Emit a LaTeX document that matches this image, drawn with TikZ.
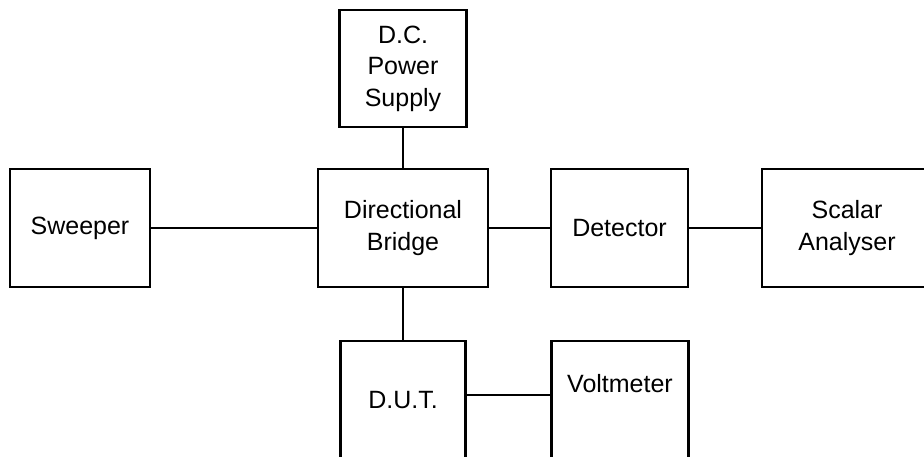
\documentclass[tikz,border=0pt]{standalone}
\usepackage{fontspec}
\setmainfont{Liberation Sans}
\usetikzlibrary{positioning}

\begin{document}
\begin{tikzpicture}[node distance=1.5cm, line width=2.6pt]
  \tikzstyle{block} = [rectangle, draw, outer sep=0pt, inner sep=0pt, align=center, minimum width=137pt, minimum height=118pt, font=\fontsize{25}{31.5}\selectfont]

  \useasboundingbox (0,0) rectangle (924pt,-456pt);

  \node[block, minimum width=140pt] (sweeper) at (80pt,-228pt) {Sweeper};
  \node[block, minimum width=170pt] (bridge) [right=168pt of sweeper] {Directional\\Bridge};
  \node[block] (detector) [right=63pt of bridge] {Detector};
  \node[block, minimum width=170pt] (scalar) [right=74pt of detector] {Scalar\\Analyser};
  \node[block, minimum width=127pt, minimum height=117pt] (dcsupply) [above=42pt of bridge] {D.C.\\Power\\Supply};
  \node[block, minimum width=125pt] (dut) [below=54pt of bridge] {D.U.T.};
  \node[block, text height=18pt, text depth=34pt] (voltmeter) [right=86pt of dut] {Voltmeter};

  \draw (sweeper) -- (bridge);
  \draw (bridge) -- (detector);
  \draw (detector) -- (scalar);
  \draw (dcsupply) -- (bridge);
  \draw (bridge) -- (dut);
  \draw ([yshift=5pt]dut.east) -- ([yshift=5pt]voltmeter.west);
\end{tikzpicture}
\end{document}
